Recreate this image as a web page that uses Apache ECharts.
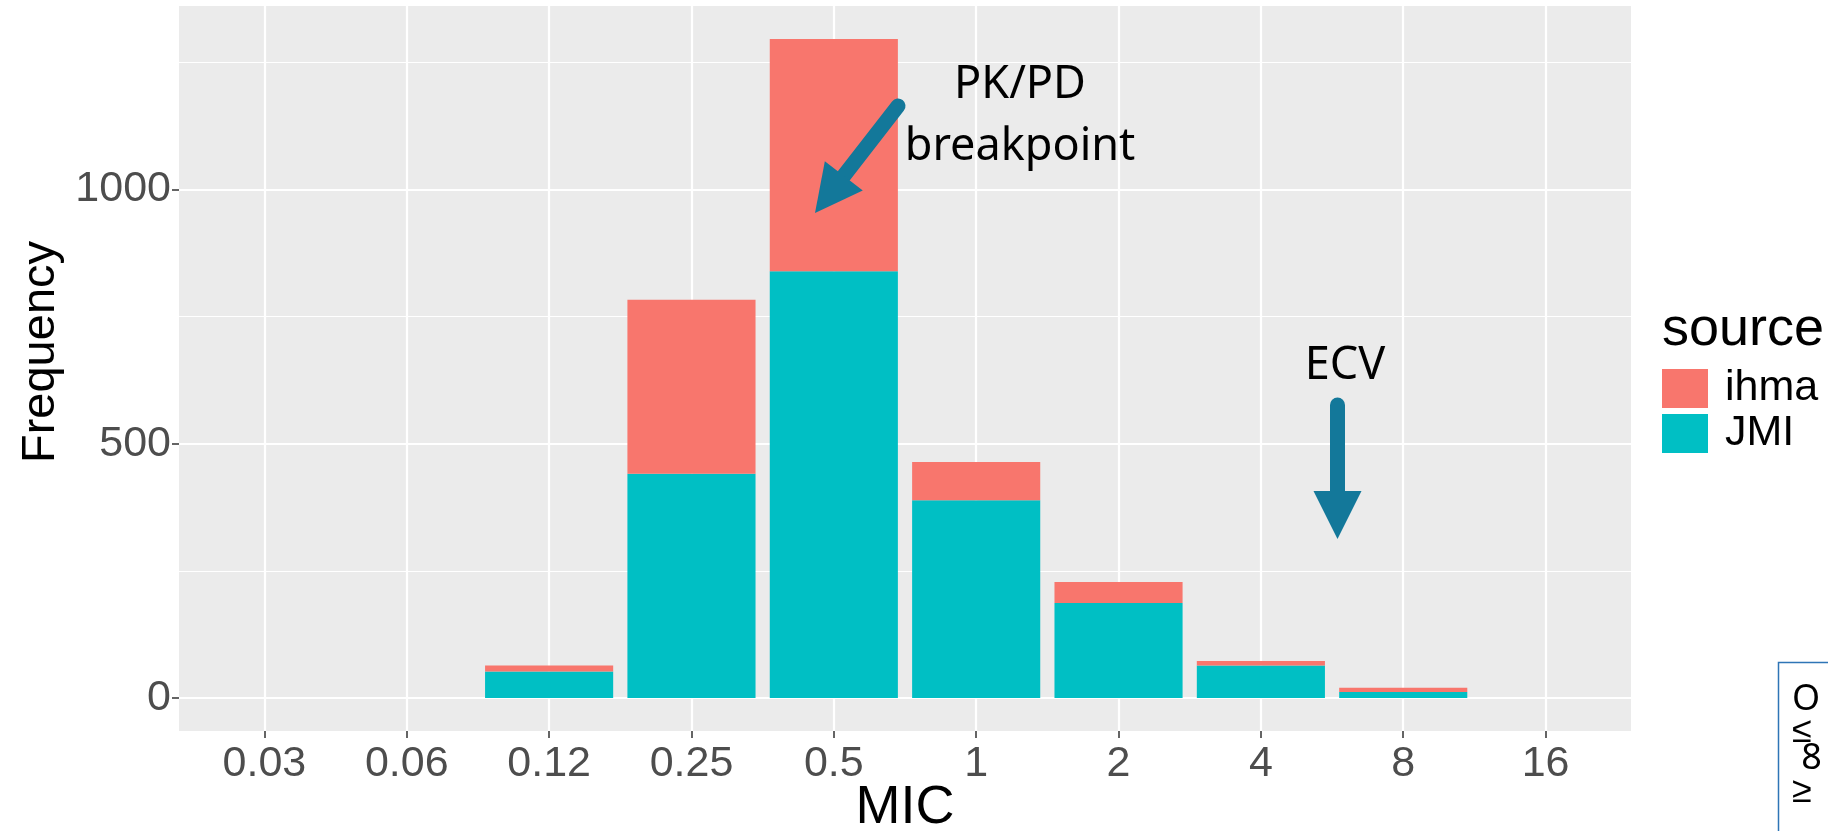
<!DOCTYPE html>
<html>
<head>
<meta charset="utf-8">
<script src="https://cdn.jsdelivr.net/npm/echarts@6/dist/echarts.min.js"></script>
<style>
  html, body { margin: 0; padding: 0; background: #ffffff; }
  #chart { width: 1828px; height: 831px; }
</style>
</head>
<body>
<div id="chart"></div>
<script>
// MIC categories on the x axis
const micLabels = ['0.03', '0.06', '0.12', '0.25', '0.5', '1', '2', '4', '8', '16'];
// Isolate counts per MIC, stacked by data source
const jmiCounts  = [0, 0, 52, 441, 839, 389, 187, 64, 12, 0];
const ihmaCounts = [0, 0, 12, 342, 457, 75, 41, 9, 8, 0];
// Labelled y ticks
const yTickValues = [0, 500, 1000];
// Side box lines (only their first characters fit on the page)
const boxLines = ['O', '≤', ' 8', '≥'];

const xTickValues = micLabels.map((_, i) => i + 1);
const total = jmiCounts.map((v, i) => v + ihmaCounts[i]);
const yMax = Math.max(...total);
const pad = yMax * 0.05;

// Plot panel in pixels; discrete axis is padded by 0.6 of a step on each side
const PANEL = { left: 179, right: 1631, top: 6, bottom: 731 };
const W = 1828, H = 831;
const step = (PANEL.right - PANEL.left) / (micLabels.length + 0.2);
const inset = 0.1 * step;

const AXIS_FONT = '"Liberation Sans", Arial, sans-serif';
const NOTE_FONT = '"Noto Sans", sans-serif';
const ARROW = '#13789A';

const chart = echarts.init(document.getElementById('chart'), null, { renderer: 'canvas' });

function arrow(x1, y1, x2, y2, headLen, headHalf, width) {
  const dx = x2 - x1, dy = y2 - y1;
  const len = Math.hypot(dx, dy);
  const ux = dx / len, uy = dy / len;
  const bx = x2 - ux * headLen, by = y2 - uy * headLen;
  const px = -uy, py = ux;
  return [
    { type: 'line', silent: true, z: 100,
      shape: { x1: x1, y1: y1, x2: bx + ux * 2, y2: by + uy * 2 },
      style: { stroke: ARROW, lineWidth: width, lineCap: 'round' } },
    { type: 'polygon', silent: true, z: 100,
      shape: { points: [[x2, y2], [bx + px * headHalf, by + py * headHalf], [bx - px * headHalf, by - py * headHalf]] },
      style: { fill: ARROW } }
  ];
}

function note(text, x, y, size) {
  return { type: 'text', silent: true, z: 100,
    style: { text: text, x: x, y: y, textAlign: 'center', textVerticalAlign: 'middle',
             font: size + 'px ' + NOTE_FONT, fill: '#000' } };
}

const graphics = [
  note('PK/PD', 1020, 85, 45),
  note('breakpoint', 1020, 147, 45),
  note('ECV', 1345, 366, 45),
  ...arrow(898, 106, 815, 213, 47, 24, 15),
  ...arrow(1337.5, 405, 1337.5, 539, 48, 24, 15),
  { type: 'rect', silent: true, z: 100,
    shape: { x: 1778.5, y: 662.5, width: 120, height: 260 },
    style: { fill: '#fff', stroke: '#2E75B6', lineWidth: 1.5 } },
  ...boxLines.map((t, i) => ({
    type: 'text', silent: true, z: 101,
    style: { text: t, x: 1792, y: [700, 732, 759, 792][i], textAlign: 'left', textVerticalAlign: 'middle',
             font: '36px ' + NOTE_FONT, fill: '#000' } }))
];

const yRange = { min: -pad, max: yMax + pad };

const option = {
  animation: false,
  backgroundColor: '#ffffff',
  title: {
    text: 'source', left: 1662, top: 303, padding: 0,
    textStyle: { fontSize: 54, fontWeight: 'normal', color: '#000', fontFamily: AXIS_FONT }
  },
  legend: {
    data: ['ihma', 'JMI'],
    orient: 'vertical', left: 1662, top: 367, padding: 0,
    itemWidth: 46, itemHeight: 39, itemGap: 2, icon: 'rect',
    textStyle: { fontSize: 43, color: '#000', fontFamily: AXIS_FONT, padding: [0, 0, 0, 12] }
  },
  grid: [
    // panel: background, grid lines, ticks and labels
    { left: PANEL.left, right: W - PANEL.right, top: PANEL.top, bottom: H - PANEL.bottom,
      outerBoundsMode: 'none', containLabel: false,
      show: true, backgroundColor: '#EBEBEB', borderWidth: 0 },
    // bar area: one band per MIC category
    { left: PANEL.left + inset, right: W - PANEL.right + inset, top: PANEL.top, bottom: H - PANEL.bottom,
      outerBoundsMode: 'none', containLabel: false }
  ],
  xAxis: [
    {
      gridIndex: 0, type: 'value', min: 0.4, max: micLabels.length + 0.6, splitNumber: 10,
      name: 'MIC', nameLocation: 'middle', nameGap: 50, nameMoveOverlap: false,
      nameTextStyle: { fontSize: 54, color: '#000', fontFamily: AXIS_FONT },
      axisLine: { show: false, onZero: false },
      axisTick: { show: true, length: 7, customValues: xTickValues, lineStyle: { color: '#333', width: 1.5 } },
      axisLabel: {
        customValues: xTickValues, margin: 12, fontSize: 43, color: '#4D4D4D', fontFamily: AXIS_FONT,
        formatter: v => (Number.isInteger(v) && v >= 1 && v <= micLabels.length) ? micLabels[v - 1] : ''
      },
      splitLine: { show: true, lineStyle: { color: '#ffffff', width: 2.2 } }
    },
    { gridIndex: 1, type: 'category', data: micLabels, boundaryGap: true, show: false }
  ],
  yAxis: [
    {
      gridIndex: 0, type: 'value', min: yRange.min, max: yRange.max, splitNumber: 3,
      name: 'Frequency', nameLocation: 'middle', nameGap: 114, nameMoveOverlap: false,
      nameTextStyle: { fontSize: 47, color: '#000', fontFamily: AXIS_FONT, padding: [0, 0, 0, 33] },
      axisLine: { show: false, onZero: false },
      axisTick: { show: true, length: 7, customValues: yTickValues, lineStyle: { color: '#333', width: 1.5 } },
      axisLabel: {
        customValues: yTickValues, margin: 8, fontSize: 43, color: '#4D4D4D', fontFamily: AXIS_FONT,
        formatter: v => (yTickValues.indexOf(v) >= 0 ? String(v) : '')
      },
      splitLine: { show: true, lineStyle: { color: '#ffffff', width: 2.2 } },
      minorTick: { show: false, splitNumber: 2 },
      minorSplitLine: { show: true, lineStyle: { color: '#ffffff', width: 1.1 } }
    },
    { gridIndex: 1, type: 'value', min: yRange.min, max: yRange.max, show: false, splitLine: { show: false } }
  ],
  series: [
    {
      name: 'JMI', type: 'bar', stack: 'source', xAxisIndex: 1, yAxisIndex: 1, barWidth: '90%',
      itemStyle: { color: '#00BFC4' },
      data: jmiCounts
    },
    {
      name: 'ihma', type: 'bar', stack: 'source', xAxisIndex: 1, yAxisIndex: 1, barWidth: '90%',
      itemStyle: { color: '#F8766D' },
      data: ihmaCounts
    }
  ],
  graphic: graphics
};

chart.setOption(option);
</script>
</body>
</html>
